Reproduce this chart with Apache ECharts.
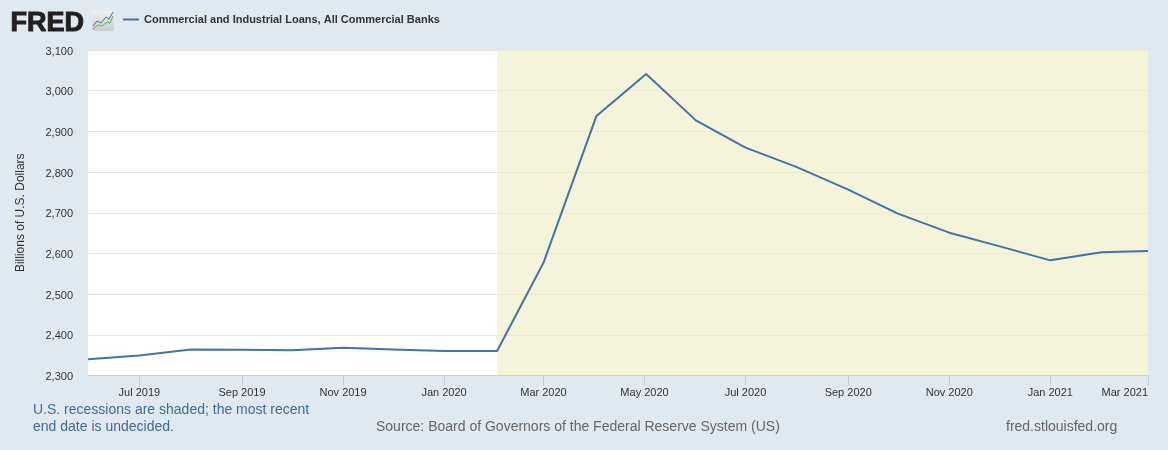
<!DOCTYPE html>
<html>
<head>
<meta charset="utf-8">
<title>Commercial and Industrial Loans, All Commercial Banks</title>
<script src="https://cdn.jsdelivr.net/npm/echarts@6/dist/echarts.min.js"></script>
<style>
  html, body { margin: 0; padding: 0; background: #e1e9f0; }
  #chart { width: 1168px; height: 450px; }
</style>
</head>
<body>
<div id="chart"></div>
<script>
const seriesName = 'Commercial and Industrial Loans, All Commercial Banks'
const dates = ['2019-05-31', '2019-07-01', '2019-08-01', '2019-09-01', '2019-10-01', '2019-11-01', '2019-12-01',
  '2020-01-01', '2020-02-02', '2020-03-01', '2020-04-02', '2020-05-02', '2020-06-01', '2020-07-01', '2020-08-01',
  '2020-09-01', '2020-10-01', '2020-11-01', '2020-12-01', '2021-01-01', '2021-02-01', '2021-03-01']
const loans = [2340, 2349, 2364, 2363, 2362, 2368, 2364,
  2360, 2360, 2577, 2938, 3041, 2927, 2860, 2812,
  2757, 2698, 2651, 2618, 2583, 2603, 2606]
const tickDates = ['2019-07-01', '2019-09-01', '2019-11-01', '2020-01-01', '2020-03-01', '2020-05-01', '2020-07-01',
  '2020-09-01', '2020-11-01', '2021-01-01', '2021-03-01']
const tickLabels = ['Jul 2019', 'Sep 2019', 'Nov 2019', 'Jan 2020', 'Mar 2020', 'May 2020', 'Jul 2020',
  'Sep 2020', 'Nov 2020', 'Jan 2021', 'Mar 2021']
const recession = ['2020-02-02', '2021-03-01']

const FONT = '"Liberation Sans", Arial, sans-serif'

// dates as timestamps, so the axis spaces them by real days
// (value axis because customValues crashes the time axis label formatter)
function toTime(d) {
  return new Date(d + 'T00:00:00Z').getTime()
}
const tickTimes = tickDates.map(toTime)

const myChart = echarts.init(document.getElementById('chart'), null, { renderer: 'canvas' })
const option = {
  backgroundColor: '#e1e9f0',
  animation: false,
  textStyle: { fontFamily: FONT },
  grid: {
    left: 88,
    right: 20,
    top: 50,
    bottom: 74.5,
    show: true,
    backgroundColor: '#ffffff',
    borderWidth: 0
  },
  legend: {
    left: 118,
    top: 9,
    itemWidth: 16,
    itemHeight: 2,
    icon: 'rect',
    data: [seriesName],
    textStyle: { color: '#333333', fontSize: 11, fontWeight: 'bold', fontFamily: FONT }
  },
  xAxis: {
    type: 'value',
    min: toTime(dates[0]),
    max: toTime(dates[dates.length - 1]),
    axisLine: { show: true, lineStyle: { color: '#c0d0e0', width: 1 } },
    axisTick: { show: true, length: 10, lineStyle: { color: '#c0d0e0', width: 1 }, customValues: tickTimes },
    splitLine: { show: false },
    axisLabel: {
      customValues: tickTimes,
      color: '#333333',
      fontSize: 11,
      fontFamily: FONT,
      margin: 12,
      alignMaxLabel: 'right',
      formatter: function(value) {
        return tickLabels[tickTimes.indexOf(+value)] || ''
      }
    }
  },
  yAxis: {
    type: 'value',
    min: 2300,
    max: 3100,
    interval: 100,
    name: 'Billions of U.S. Dollars',
    nameLocation: 'middle',
    nameRotate: 90,
    nameGap: 61,
    nameTextStyle: { color: '#333333', fontSize: 12, fontFamily: FONT },
    axisLine: { show: false },
    axisTick: { show: false },
    axisLabel: {
      color: '#333333',
      fontSize: 11,
      fontFamily: FONT,
      margin: 15,
      verticalAlignMaxLabel: 'middle',
      verticalAlignMinLabel: 'middle',
      // labels sit a little below their gridline
      rich: {
        tick: { color: '#333333', fontSize: 11, fontFamily: FONT, padding: [3, 0, 0, 0] }
      },
      formatter: function(v) { return '{tick|' + v.toLocaleString('en-US') + '}' }
    },
    splitLine: { show: true, lineStyle: { color: '#e6e6e6', width: 1 } }
  },
  series: [{
    name: seriesName,
    type: 'line',
    data: dates.map(function(d, i) { return [toTime(d), loans[i]] }),
    symbol: 'none',
    smooth: false,
    lineStyle: { color: '#4572a7', width: 2 },
    itemStyle: { color: '#4572a7' },
    markArea: {
      silent: true,
      itemStyle: { color: 'rgba(237, 237, 195, 0.6)' },
      data: [[{ xAxis: toTime(recession[0]) }, { xAxis: toTime(recession[1]) }]]
    }
  }],
  graphic: [
    // FRED logo and its little chart icon
    { type: 'text', left: 10, top: 10, style: { text: 'FRED', font: 'bold 27px "Liberation Sans", Arial, sans-serif', fill: '#231f20', stroke: '#231f20', lineWidth: 1 } },
    {
      type: 'rect',
      shape: { x: 92, y: 11, width: 22, height: 20, r: 2 },
      style: {
        fill: new echarts.graphic.LinearGradient(0, 0, 0, 1, [
          { offset: 0, color: '#eef0f0' },
          { offset: 1, color: '#c9cdcb' }
        ])
      }
    },
    { type: 'polyline', shape: { points: [[93, 26], [97, 21], [101, 23], [106, 17], [109, 19], [113, 12]] }, style: { stroke: '#4572a7', fill: 'none', lineWidth: 1 } },
    { type: 'polyline', shape: { points: [[93, 29], [98, 25], [102, 26], [107, 22], [110, 23], [113, 16]] }, style: { stroke: '#6aa84f', fill: 'none', lineWidth: 1 } },
    { type: 'text', left: 33, top: 402, style: { text: 'U.S. recessions are shaded; the most recent\nend date is undecided.', font: '14px "Liberation Sans", Arial, sans-serif', fill: '#3c6aa5', lineHeight: 17 } },
    { type: 'text', left: 376, top: 420, style: { text: 'Source: Board of Governors of the Federal Reserve System (US)', font: '14px "Liberation Sans", Arial, sans-serif', fill: '#666666' } },
    { type: 'text', left: 1006, top: 420, style: { text: 'fred.stlouisfed.org', font: '14px "Liberation Sans", Arial, sans-serif', fill: '#666666' } }
  ]
}
myChart.setOption(option)
</script>
</body>
</html>
